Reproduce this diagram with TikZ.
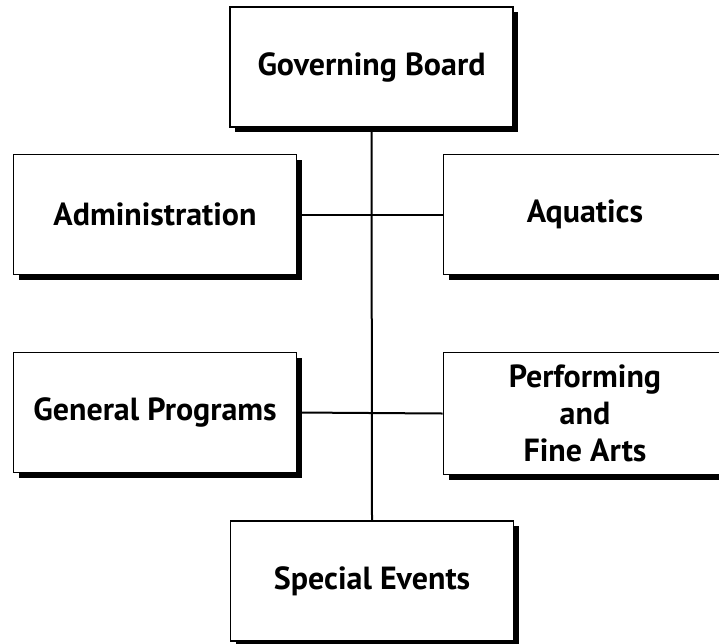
\documentclass[tikz,border=0pt]{standalone}
\usepackage{fontspec}
\setmainfont{PT Sans}
\usetikzlibrary{shadows}
\begin{document}
\begin{tikzpicture}[x=1pt,y=-1pt,
  orgbox/.style={draw=black, line width=1.6pt, fill=white, inner sep=0pt,
    minimum width=283pt, minimum height=120pt, align=center,
    font=\fontsize{32}{37}\selectfont\bfseries,
    drop shadow={shadow xshift=5pt, shadow yshift=-5pt, opacity=1, fill=black}},
  link/.style={line width=2pt}]
\useasboundingbox (0,0) rectangle (719,643);
\node[orgbox] (gb) at (371.5,67) {Governing Board};
\node[orgbox] (se) at (372,581) {Special Events};
\node[orgbox] (adm) at (155,214.5) {Administration};
\node[orgbox] (aqu) at (585,214.5) {Aquatics};
\node[orgbox] (gp) at (155,412.5) {General Programs};
\node[orgbox, minimum height=122pt] (pfa) at (585,413.5) {Performing\\and\\Fine Arts};
\draw[link] (gb.south) -- (se.north);
\draw[link] (adm.east) -- (aqu.west);
\draw[link] (gp.east) -- (pfa.west);
\end{tikzpicture}
\end{document}
